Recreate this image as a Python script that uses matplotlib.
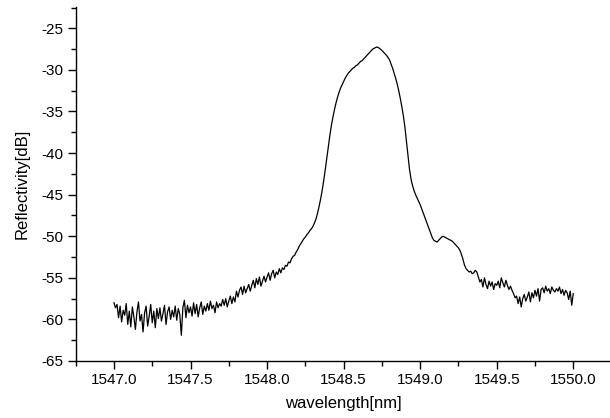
import numpy as np
import matplotlib
matplotlib.use("Agg")
import matplotlib.pyplot as plt
from matplotlib.ticker import MultipleLocator

# ===== データ =====
wl_start = 1547.0   # nm
wl_stop = 1550.0    # nm

# 反射率 [dB]、0.01 nm 刻み
refl_db = [
    # 1547.00 - 1547.09
    -58.0, -58.6, -58.2, -59.8, -58.4, -60.3, -58.9, -59.5, -58.1, -60.6,
    # 1547.10
    -59.0, -60.9, -58.5, -59.7, -61.2, -59.1, -57.9, -60.2, -59.4, -61.5,
    # 1547.20
    -59.2, -58.4, -60.8, -59.6, -58.2, -60.4, -59.0, -61.0, -58.7, -59.9,
    # 1547.30
    -58.6, -60.2, -59.3, -58.3, -60.6, -59.1, -58.5, -60.0, -58.9, -59.7,
    # 1547.40
    -58.4, -60.1, -58.7, -59.4, -61.9, -58.6, -57.7, -59.8, -58.3, -59.2,
    # 1547.50
    -58.5, -59.6, -58.0, -59.3, -58.2, -59.7, -58.6, -57.9, -59.4, -58.4,
    # 1547.60
    -59.0, -58.1, -58.9, -57.8, -58.7, -58.3, -59.2, -57.9, -58.6, -58.1,
    # 1547.70
    -58.4, -57.6, -58.3, -57.5, -58.5, -57.8, -57.2, -58.1, -57.3, -57.9,
    # 1547.80
    -56.6, -57.3, -56.5, -56.1, -57.0, -56.0, -56.8, -56.3, -55.8, -56.6,
    # 1547.90
    -55.9, -55.3, -56.2, -55.1, -55.8, -54.9, -56.0, -55.4, -54.8, -55.5,
    # 1548.00
    -54.9, -54.4, -55.3, -54.5, -54.1, -55.0, -54.3, -54.6, -53.9, -54.4,
    # 1548.10
    -53.8, -54.0, -53.5, -53.6, -53.1, -53.2, -52.7, -52.4, -52.3, -51.9,
    # 1548.20
    -51.6, -51.2, -50.9, -50.6, -50.3, -50.1, -49.8, -49.6, -49.3, -49.1,
    # 1548.30
    -48.8, -48.4, -47.9, -47.2, -46.4, -45.5, -44.5, -43.3, -42.0, -40.6,
    # 1548.40
    -39.2, -37.9, -36.7, -35.7, -34.8, -34.0, -33.3, -32.7, -32.2, -31.8,
    # 1548.50
    -31.4, -31.0, -30.7, -30.4, -30.2, -30.0, -29.8, -29.7, -29.5, -29.4,
    # 1548.60
    -29.2, -29.0, -28.9, -28.7, -28.5, -28.3, -28.1, -27.9, -27.7, -27.5,
    # 1548.70
    -27.4, -27.3, -27.25, -27.35, -27.5, -27.65, -27.85, -28.05, -28.25, -28.5,
    # 1548.80
    -28.8, -29.3, -29.8, -30.4, -31.0, -31.7, -32.5, -33.4, -34.4, -35.5,
    # 1548.90
    -36.8, -38.5, -40.3, -41.9, -43.1, -43.9, -44.5, -45.0, -45.4, -45.8,
    # 1549.00
    -46.2, -46.7, -47.2, -47.7, -48.2, -48.7, -49.2, -49.7, -50.2, -50.5,
    # 1549.10
    -50.6, -50.7, -50.5, -50.3, -50.1, -50.0, -50.1, -50.2, -50.3, -50.4,
    # 1549.20
    -50.5, -50.6, -50.8, -51.0, -51.2, -51.4, -51.7, -52.2, -52.8, -53.5,
    # 1549.30
    -53.9, -54.1, -54.3, -54.2, -54.5, -54.4, -54.1, -54.3, -54.9, -55.5,
    # 1549.40
    -55.2, -56.1, -55.0, -55.8, -56.3, -55.4, -56.0, -55.5, -56.4, -55.7,
    # 1549.50
    -55.9, -55.4, -56.2, -55.0, -55.6, -56.1, -55.3, -55.9, -56.4, -56.0,
    # 1549.60
    -56.5, -56.9, -57.4, -57.2, -58.1, -57.3, -58.5, -57.5, -57.0, -57.8,
    # 1549.70
    -57.3, -56.7, -57.9, -56.8, -57.4, -56.5, -57.2, -56.3, -57.8, -56.4,
    # 1549.80
    -56.2, -56.8, -56.0, -56.6, -56.3, -56.9, -56.1, -56.5, -56.7, -56.3,
    # 1549.90
    -56.6, -56.1, -56.9, -56.4, -57.1, -56.5, -56.8, -57.6, -56.6, -58.3,
    # 1550.00
    -56.9,
]

x_ticks = [1547.0, 1547.5, 1548.0, 1548.5, 1549.0, 1549.5, 1550.0]
y_ticks = [-65, -60, -55, -50, -45, -40, -35, -30, -25]

# 測定点の波長（等間隔サンプリング）
wavelength = np.linspace(wl_start, wl_stop, len(refl_db))

# ===== グラフ =====
plt.rcParams['font.family'] = ['Liberation Sans', 'DejaVu Sans']
plt.rcParams['axes.unicode_minus'] = False   # マイナスはハイフン表記

fig = plt.figure(figsize=(6.1, 4.18), dpi=100)
ax = fig.add_axes([75.7 / 610, 1 - 361 / 418, (610 - 75.7) / 610, (361 - 6.7) / 418])

ax.plot(wavelength, refl_db, color='black', linewidth=0.9)

ax.set_xlim(1546.75, 1550.24)
ax.set_ylim(-65, -22.4)
ax.set_xticks(x_ticks)
ax.set_xticklabels([f"{v:.1f}" for v in x_ticks])
ax.set_yticks(y_ticks)
ax.xaxis.set_minor_locator(MultipleLocator(0.25))
ax.yaxis.set_minor_locator(MultipleLocator(2.5))

# Origin風：左と下の軸のみ
ax.spines['top'].set_visible(False)
ax.spines['right'].set_visible(False)
ax.spines['left'].set_linewidth(1.0)
ax.spines['bottom'].set_linewidth(1.0)
ax.tick_params(which='major', direction='out', length=6, width=1.0, labelsize=11, pad=3)
ax.tick_params(which='minor', direction='out', length=3.5, width=1.0)

ax.set_xlabel('wavelength[nm]', fontsize=12, labelpad=6)
ax.set_ylabel('Reflectivity[dB]', fontsize=12, labelpad=8)

fig.savefig('out.png', dpi=100)
